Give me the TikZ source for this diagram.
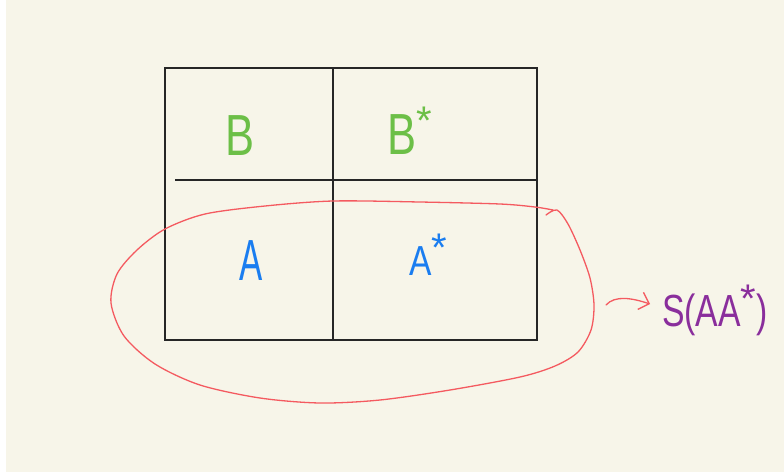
\documentclass[tikz,border=0pt]{standalone}
\usepackage{fontspec}
\setmainfont{Liberation Sans}
\usepackage{xcolor}
\usetikzlibrary{arrows.meta, positioning, calc}
\definecolor{paper}{HTML}{F7F5E9}
\definecolor{penred}{HTML}{F45A60}
\definecolor{pengreen}{HTML}{6CBF47}
\definecolor{penblue}{HTML}{1A7DF0}
\definecolor{penpurple}{HTML}{8A2E9C}
\newcommand{\handstar}[1]{\raisebox{#1}{\fontsize{40}{40}\selectfont *}}
\tikzstyle{grid} = [line width=1.9pt, draw=black!85]
\tikzstyle{hand} = [inner sep=0pt, anchor=base west]
\tikzstyle{sysB} = [hand, text=pengreen, font=\fontsize{58}{58}\selectfont]
\tikzstyle{sysA} = [hand, text=penblue, font=\fontsize{58}{58}\selectfont]
\tikzstyle{loop} = [line width=1.3pt, draw=penred, line cap=round, line join=round]
\tikzstyle{arrow} = [loop, -{Straight Barb[length=9pt, width=18pt]}]

\begin{document}
\begin{tikzpicture}[x=1pt, y=-1pt]
    \useasboundingbox (0,0) rectangle (784,472);
    \fill[white] (0,0) rectangle (784,472);
    \fill[paper] (6,0) rectangle (784,472);

    % the table
    \draw[grid] (165,68) rectangle (537,340);
    \draw[grid] (333,68) -- (333,340);
    \draw[grid] (175,180) -- (537,180);

    % labels
    \node (b) [sysB] at (225,155) {\scalebox{0.75}[1]{B}};
    \node (bstar) [sysB] at (387,154) {\scalebox{0.75}[1]{B}\handstar{20pt}};
    \node (a) [sysA] at (239,280) {\scalebox{0.6}[1]{A}};
    \node (astar) [sysA, font=\fontsize{42}{42}\selectfont] at (409,275) {\scalebox{0.8}[1]{A}\handstar{14pt}};
    \node (s) [hand, text=penpurple, font=\fontsize{45}{45}\selectfont] at (662,326)
        {\scalebox{0.75}[1]{S(AA}\handstar{14pt}\scalebox{0.75}[1]{)}};

    % red loop round A and A*
    \draw[loop] plot[smooth, tension=0.5] coordinates {
        (546,215) (557,210) (568,224) (580,250) (590,278) (594,305) (591,330)
        (578,352) (555,366) (520,377) (450,390) (380,400) (320,403) (260,398)
        (200,385) (155,364) (124,336) (111,303) (117,274) (137,250) (165,229)
        (205,214) (265,206) (333,201) (420,202) (500,204) (535,207) (553,210)};

    \coordinate (loopright) at (606,305);
    \draw[arrow] (loopright) .. controls (615,295) and (632,298) .. ([shift={(-12pt,22pt)}]s.base west);
\end{tikzpicture}
\end{document}
